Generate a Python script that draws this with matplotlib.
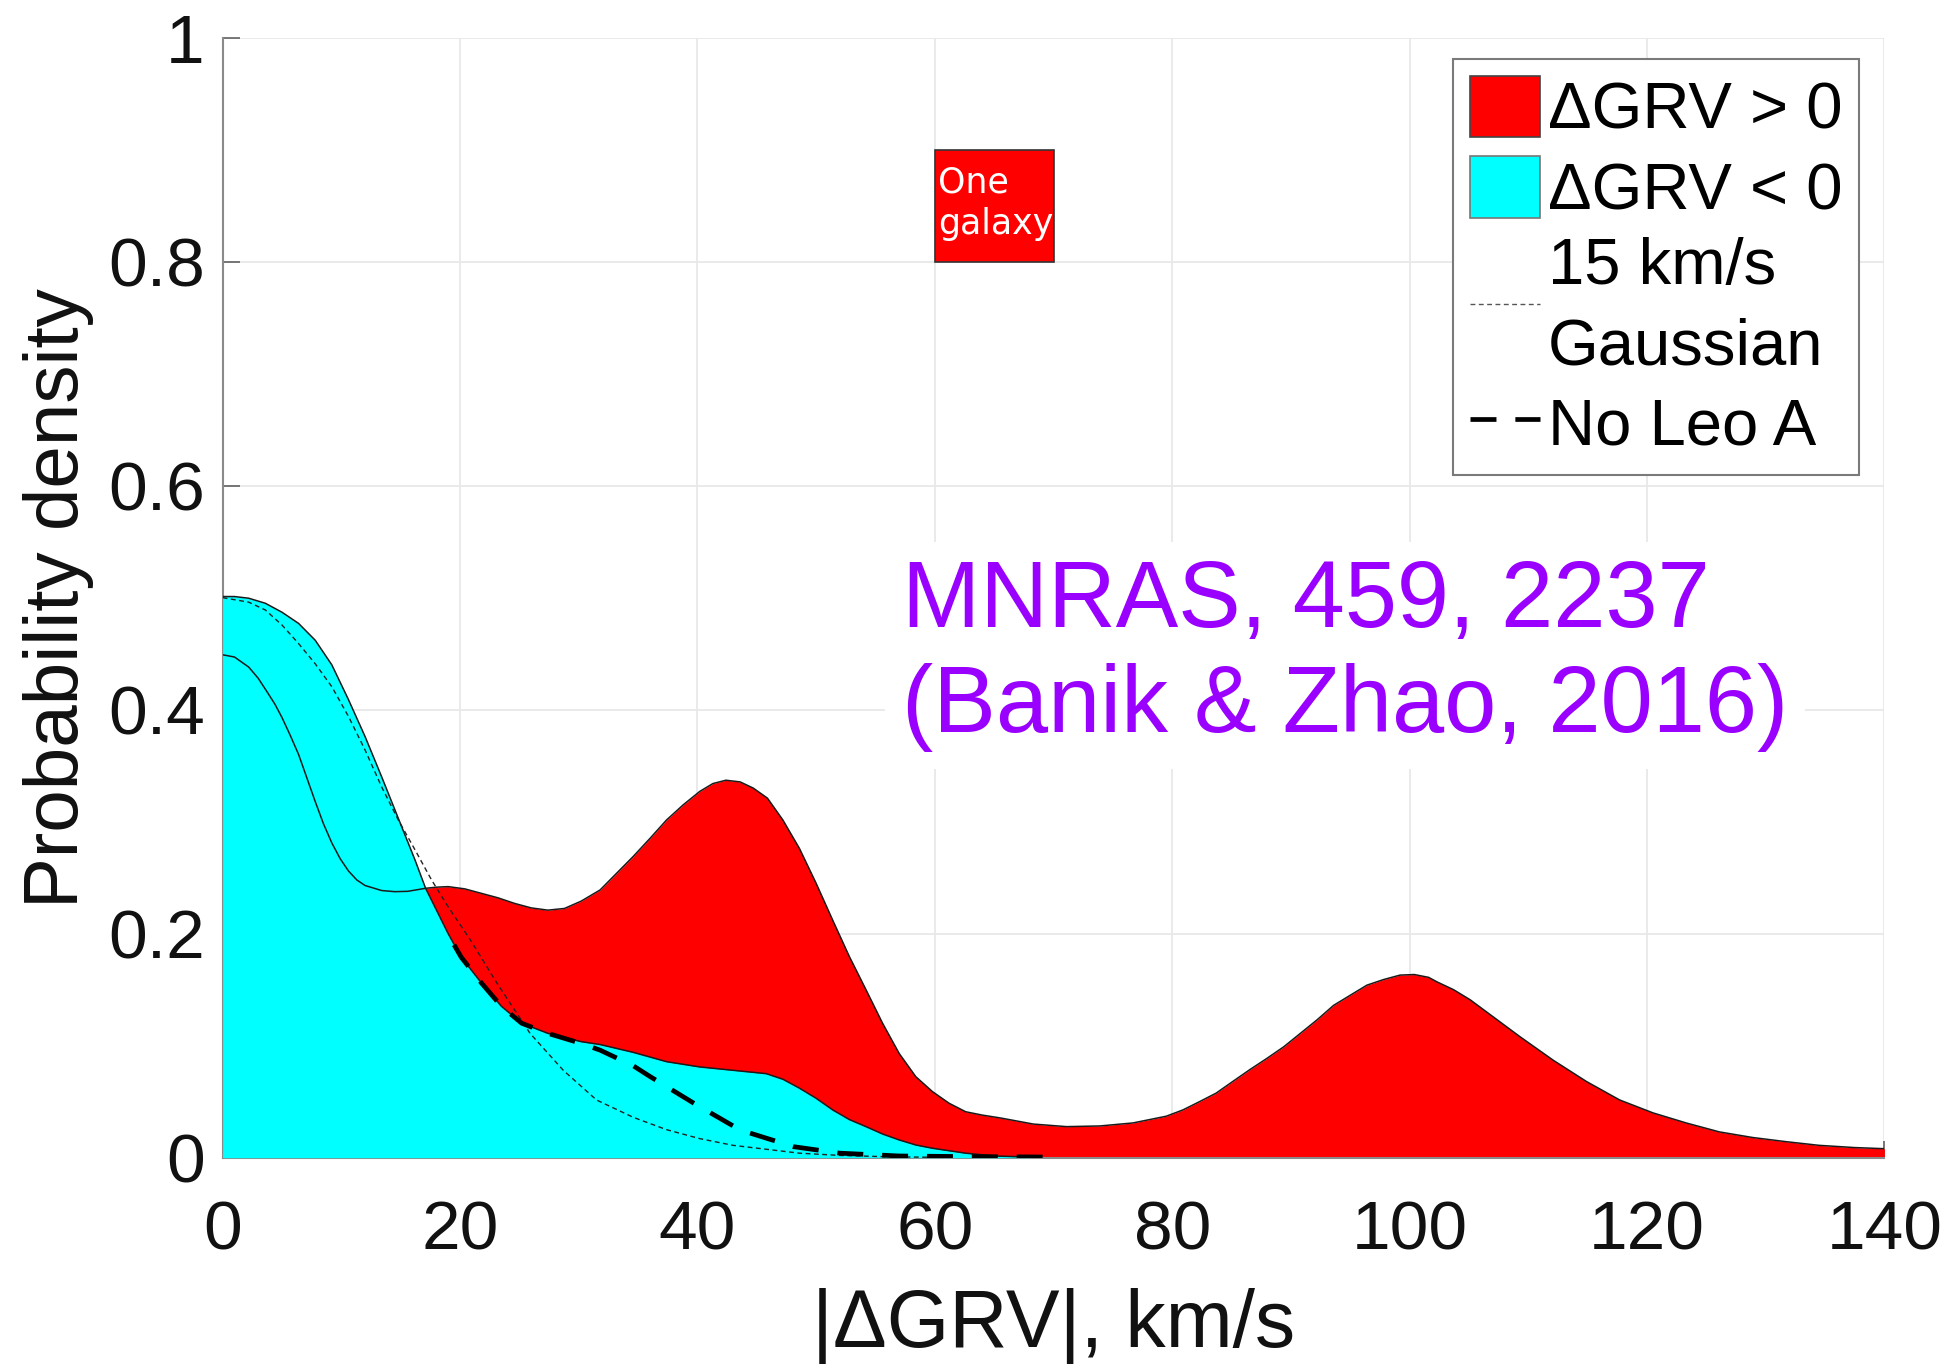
import matplotlib

matplotlib.use("Agg")
import matplotlib.pyplot as plt
from matplotlib.lines import Line2D
from matplotlib.patches import Patch


OUTPUT_FILE = "out.png"

# dGRV > 0 density (red area and its outline)
POS_X = [0, 1.0, 2.2, 3.0, 3.8, 4.4, 5.0, 5.7, 6.4, 7.1, 7.8, 8.5, 9.2, 9.9,
         10.6, 11.3, 12.0, 13.4, 14.5, 15.6, 17.1, 18.0, 19.0, 20.4, 21.8, 23.2,
         24.6, 26.0, 27.4, 28.8, 30.2, 31.8, 33.2, 34.6, 36.0, 37.4, 38.8, 40.2,
         41.3, 42.4, 43.6, 44.7, 45.9, 47.2, 48.6, 50.0, 51.4, 52.8, 54.2, 55.6,
         57.0, 58.4, 59.8, 61.2, 62.6, 64.0, 65.5, 68.3, 71.1, 73.9, 76.7, 79.5,
         80.9, 82.3, 83.7, 85.1, 86.5, 88.0, 89.4, 90.8, 92.2, 93.6, 95.0, 96.4,
         97.8, 99.2, 100.4, 101.6, 102.3, 103.7, 105.1, 106.5, 109.3, 112.1,
         114.9, 117.7, 120.5, 123.3, 126.1, 128.9, 131.7, 134.5, 137.5, 140]
POS_Y = [0.449, 0.447, 0.438, 0.428, 0.415, 0.405, 0.393, 0.377, 0.360, 0.339,
         0.318, 0.298, 0.281, 0.267, 0.256, 0.248, 0.243, 0.2385, 0.2375, 0.2378,
         0.2405, 0.2415, 0.242, 0.240, 0.236, 0.232, 0.227, 0.223, 0.221, 0.2225,
         0.229, 0.239, 0.254, 0.269, 0.285, 0.3015, 0.315, 0.327, 0.334, 0.337,
         0.3355, 0.330, 0.321, 0.3015, 0.276, 0.245, 0.212, 0.1796, 0.150, 0.120,
         0.093, 0.0723, 0.059, 0.0486, 0.041, 0.038, 0.0355, 0.030, 0.0277,
         0.0283, 0.031, 0.037, 0.0426, 0.050, 0.0576, 0.068, 0.0783, 0.0888,
         0.099, 0.111, 0.123, 0.136, 0.145, 0.154, 0.159, 0.163, 0.1635, 0.161,
         0.157, 0.150, 0.141, 0.130, 0.108, 0.087, 0.068, 0.0515, 0.040, 0.031,
         0.023, 0.018, 0.0143, 0.011, 0.009, 0.008]

# dGRV < 0 density (cyan area)
NEG_X = [0, 1.0, 2.2, 3.6, 5.0, 6.4, 7.8, 9.2, 10.6, 12.0, 13.4, 14.8, 16.2,
         17.1, 19.0, 20.1, 21.8, 23.5, 25.2, 27.4, 30.2, 31.8, 34.6, 37.4, 40.2,
         43.0, 44.4, 45.8, 47.2, 48.6, 50.0, 51.4, 52.8, 54.2, 55.6, 57.0, 58.4,
         59.8, 62.6, 65.0, 68.0]
NEG_Y = [0.501, 0.501, 0.4995, 0.495, 0.487, 0.477, 0.462, 0.440, 0.409, 0.376,
         0.340, 0.303, 0.266, 0.2405, 0.200, 0.179, 0.156, 0.135, 0.120, 0.111,
         0.1036, 0.101, 0.094, 0.0857, 0.081, 0.078, 0.0765, 0.075, 0.070, 0.062,
         0.053, 0.0426, 0.034, 0.0277, 0.0211, 0.0158, 0.0113, 0.0084, 0.004,
         0.0015, 0.0005]

# 15 km/s Gaussian
GAUSS_X = [0, 2.2, 3.6, 5.0, 6.4, 7.8, 9.2, 10.6, 12.0, 13.4, 14.8, 16.2, 17.6,
           19.0, 20.9, 23.1, 25.9, 28.7, 31.5, 34.6, 37.4, 40.2, 43.0, 45.8,
           48.6, 52.0, 56.0, 60.0]
GAUSS_Y = [0.500, 0.496, 0.489, 0.4756, 0.459, 0.441, 0.4205, 0.394, 0.364, 0.331,
           0.3015, 0.275, 0.248, 0.224, 0.194, 0.156, 0.111, 0.078, 0.0515, 0.036,
           0.025, 0.017, 0.011, 0.0075, 0.004, 0.002, 0.0008, 0.0003]

# dGRV < 0 without Leo A
NOLEO_X = [19.5, 20.1, 21.8, 23.5, 25.2, 27.4, 30.2, 31.8, 33.2, 34.6, 36.0, 39.7,
           43.6, 48.1, 52.0, 57.0, 62.1, 66.0, 70.0]
NOLEO_Y = [0.19, 0.179, 0.156, 0.135, 0.120, 0.111, 0.102, 0.096, 0.089, 0.082,
           0.0725, 0.0486, 0.0247, 0.0098, 0.004, 0.0015, 0.001, 0.0008, 0.0005]

# "One galaxy" scale box
ONE_GALAXY_X = [60, 70]
ONE_GALAXY_Y = [0.8, 0.9]

X_TICKS = [0, 20, 40, 60, 80, 100, 120, 140]
Y_TICKS = [0, 0.2, 0.4, 0.6, 0.8, 1.0]
Y_TICK_LABELS = ["0", "0.2", "0.4", "0.6", "0.8", "1"]

LEGEND_LABELS = ["ΔGRV > 0", "ΔGRV < 0", "15 km/s\nGaussian", "No Leo A"]

FONT = "Liberation Sans"


def create_plot(output_path):
    plt.rcParams["font.family"] = [FONT, "DejaVu Sans"]
    fig = plt.figure(figsize=(19.58, 13.65), dpi=100)
    ax = fig.add_axes([0.1137, 0.1519, 0.8487, 0.8205])

    ax.fill_between(POS_X, POS_Y, 0, color="#ff0000", linewidth=0, zorder=2)
    ax.fill_between(NEG_X, NEG_Y, 0, color="#00ffff", linewidth=0, zorder=3)
    ax.plot(POS_X, POS_Y, color="#1a1a1a", linewidth=1.1, zorder=4)
    ax.plot(NEG_X, NEG_Y, color="#1a1a1a", linewidth=1.1, zorder=4)
    ax.plot(GAUSS_X, GAUSS_Y, color="#222222", linewidth=1.0,
            dashes=(3.5, 2.5), zorder=5)
    ax.plot(NOLEO_X, NOLEO_Y, color="black", linewidth=3.4,
            dashes=(5.5, 4), zorder=6)

    # one-galaxy box
    width = ONE_GALAXY_X[1] - ONE_GALAXY_X[0]
    height = ONE_GALAXY_Y[1] - ONE_GALAXY_Y[0]
    ax.bar(ONE_GALAXY_X[0], height, width=width, bottom=ONE_GALAXY_Y[0],
           align="edge", color="#ff0000", edgecolor="#333333", linewidth=1.2,
           zorder=6)
    ax.text(ONE_GALAXY_X[0] + 0.25, ONE_GALAXY_Y[0] + height / 2 + 0.002,
            "One\ngalaxy", color="white", fontsize=25, family="DejaVu Sans",
            ha="left", va="center", linespacing=1.3, zorder=7)

    ax.text(57.2, 0.535, "MNRAS, 459, 2237\n(Banik & Zhao, 2016)",
            color="#9900ff", fontsize=67.5, ha="left", va="top",
            linespacing=1.22, zorder=7,
            bbox=dict(facecolor="white", edgecolor="none", pad=12))

    ax.set_xlim(0, 140)
    ax.set_ylim(0, 1)
    ax.set_xticks(X_TICKS)
    ax.set_yticks(Y_TICKS)
    ax.set_yticklabels(Y_TICK_LABELS)
    ax.tick_params(axis="both", direction="in", length=12, width=1.1,
                   color="#555555", labelsize=50, labelcolor="#111111")
    ax.tick_params(axis="x", pad=30)
    ax.tick_params(axis="y", pad=13)

    ax.grid(True, color="#e8e8e8", linewidth=1.3)
    ax.set_axisbelow(True)
    for side in ("top", "right"):
        ax.spines[side].set_visible(False)
    for side in ("left", "bottom"):
        ax.spines[side].set_color("#8a8a8a")
        ax.spines[side].set_linewidth(1.5)

    ax.set_xlabel("|ΔGRV|, km/s", fontsize=58, color="#111111")
    ax.set_ylabel("Probability density", fontsize=55, color="#111111")
    ax.xaxis.set_label_coords(0.5, -0.116)
    ax.yaxis.set_label_coords(-0.0775, 0.5)

    handles = [
        Patch(facecolor="#ff0000", edgecolor="#444444", linewidth=1.2),
        Patch(facecolor="#00ffff", edgecolor="#777777", linewidth=1.2),
        Line2D([], [], color="#555555", linewidth=1.0, dashes=(3.5, 2.5)),
        Line2D([], [], color="black", linewidth=3.4, dashes=(5.5, 4)),
    ]
    leg = ax.legend(handles, LEGEND_LABELS, loc="upper right",
                    bbox_to_anchor=(0.985, 0.981), borderaxespad=0,
                    fontsize=47, handlelength=1.07, handleheight=1.07,
                    handletextpad=0.12, borderpad=0.26, labelspacing=0.22,
                    fancybox=False, framealpha=1, edgecolor="#7a7a7a")
    leg.get_frame().set_linewidth(1.5)
    for text in leg.get_texts():
        text.set_linespacing(1.45)
    leg.set_zorder(8)

    fig.savefig(output_path, dpi=100)
    plt.close(fig)


def main():
    create_plot(OUTPUT_FILE)
    print(f"Saved: {OUTPUT_FILE}")


if __name__ == "__main__":
    main()
